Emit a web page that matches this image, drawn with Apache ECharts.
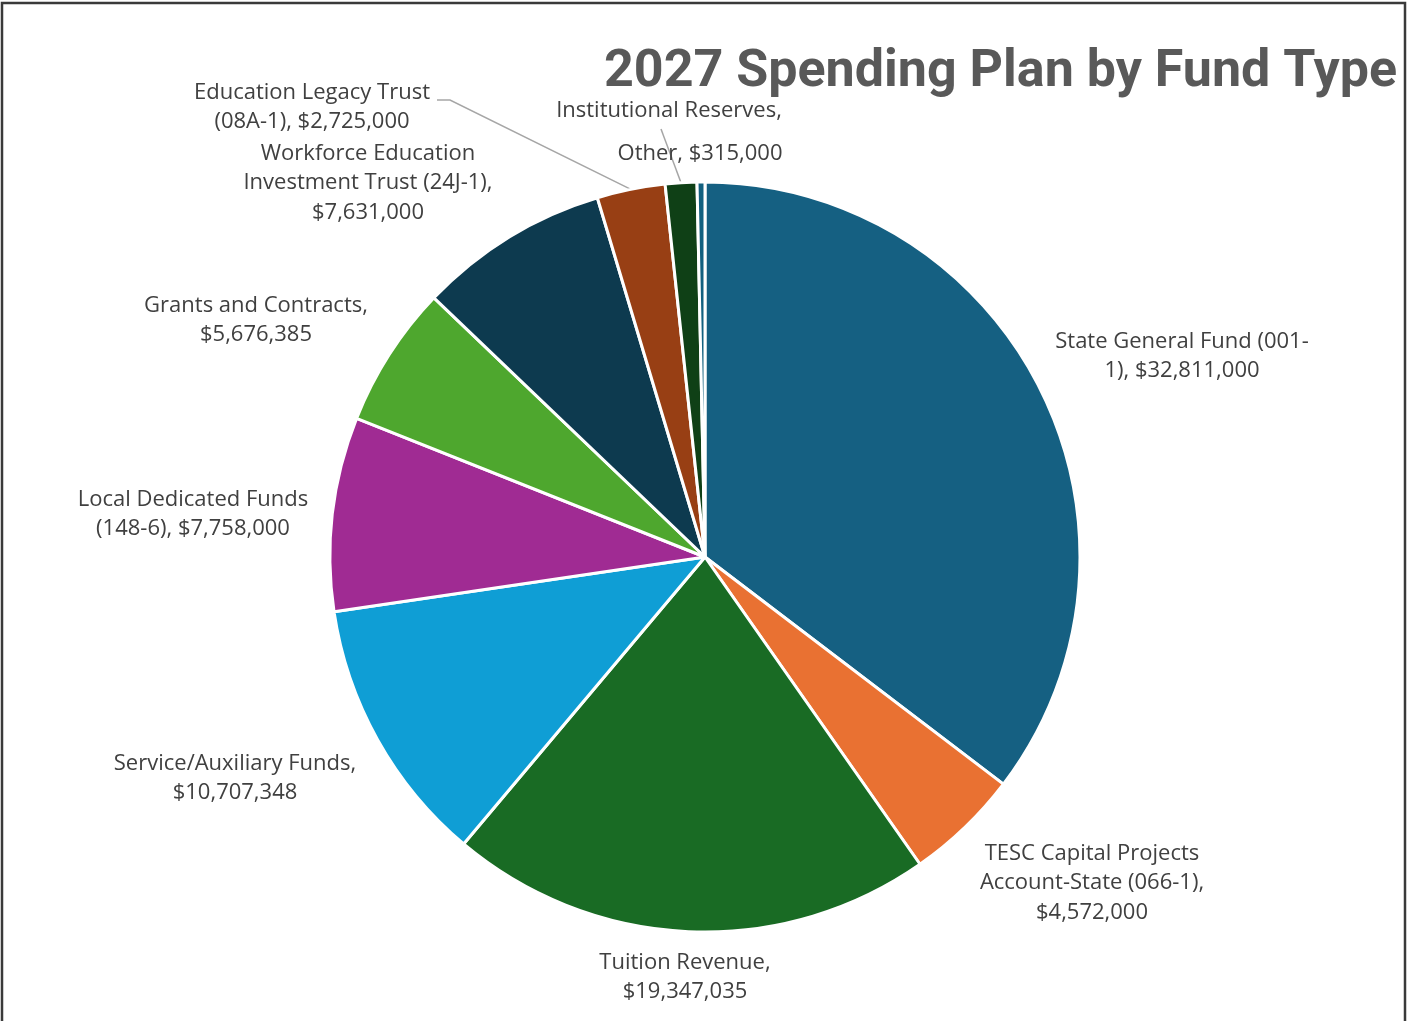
<!DOCTYPE html>
<html>
<head>
<meta charset="utf-8">
<title>2027 Spending Plan by Fund Type</title>
<script src="https://cdn.jsdelivr.net/npm/echarts@6/dist/echarts.min.js"></script>
<style>
  html, body { margin: 0; padding: 0; background: #ffffff; }
  #chart { width: 1407px; height: 1021px; }
</style>
</head>
<body>
<div id="chart"></div>
<script>
// Fund names, with the line breaks used in the slice labels
const categories = [
  'State General Fund (001-\n1)',
  'TESC Capital Projects\nAccount-State (066-1)',
  'Tuition Revenue',
  'Service/Auxiliary Funds',
  'Local Dedicated Funds\n(148-6)',
  'Grants and Contracts',
  'Workforce Education\nInvestment Trust (24J-1)',
  'Education Legacy Trust\n(08A-1)',
  'Institutional Reserves',
  'Other'
];

// Planned spending, dollars
const values = [
  32811000,
  4572000,
  19347035,
  10707348,
  7758000,
  5676385,
  7631000,
  2725000,
  1260000,
  315000
];

// Text between the fund name and its amount; null = amount not printed
const separators = [', ', ',\n', ',\n', ',\n', ', ', ',\n', ',\n', ', ', null, ', '];

const colors = [
  '#156082', '#E97132', '#196B24', '#0F9ED5', '#A02B93',
  '#4EA72E', '#0D3A4F', '#983F14', '#0F4016', '#12607F'
];

// Label centres relative to the pie centre, and leader-line bends (relative to the label centre)
const pieCenter = [705, 557];
const pieRadius = 375;
const labelOffsets = [
  [477, -201], [387, 326], [-20, 420], [-470, 221], [-512, -43],
  [-449, -237], [-337, -374], [-393, -450], [-36, -446], [-5, -403]
];
const leaderBends = {
  7: [[138, -7], [125, -7]],
  8: [[-8, 18]]
};

const money = v => '$' + v.toLocaleString('en-US');

const chart = echarts.init(document.getElementById('chart'), null, { renderer: 'canvas' });

const pieData = categories.map((name, i) => ({
  name: name,
  value: values[i],
  itemStyle: { color: colors[i] },
  labelLine: { show: i in leaderBends }
}));

chart.setOption({
  backgroundColor: '#ffffff',
  animation: false,
  title: {
    text: '2027 Spending Plan by Fund Type',
    right: 5,
    top: 42,
    textStyle: {
      fontFamily: 'Roboto',
      fontWeight: 'bold',
      fontSize: 52,
      color: '#595959'
    }
  },
  graphic: [{
    type: 'rect',
    shape: { x: 2, y: 3, width: 1403, height: 1030 },
    style: { fill: 'none', stroke: '#3a3a3a', lineWidth: 2.5 },
    silent: true,
    z: 100
  }],
  series: [{
    type: 'pie',
    center: pieCenter,
    radius: pieRadius,
    startAngle: 90,
    clockwise: true,
    avoidLabelOverlap: false,
    data: pieData,
    itemStyle: { borderColor: '#ffffff', borderWidth: 3 },
    emphasis: { disabled: true },
    label: {
      show: true,
      position: 'outside',
      fontFamily: 'Open Sans',
      fontSize: 22,
      lineHeight: 29.5,
      color: '#404040',
      align: 'center',
      formatter: p => {
        const sep = separators[p.dataIndex];
        return sep === null ? p.name + ',' : p.name + sep + money(p.value);
      }
    },
    labelLine: {
      length: 10,
      length2: 10,
      lineStyle: { color: '#a6a6a6', width: 1.5 }
    },
    labelLayout: params => {
      const i = params.dataIndex;
      const x = pieCenter[0] + labelOffsets[i][0];
      const y = pieCenter[1] + labelOffsets[i][1];
      const out = { x: x, y: y, align: 'center', verticalAlign: 'middle' };
      if (leaderBends[i] && params.labelLinePoints) {
        const start = params.labelLinePoints[0];
        out.labelLinePoints = [start].concat(
          leaderBends[i].map(b => [x + b[0], y + b[1]])
        );
      }
      return out;
    }
  }]
});
</script>
</body>
</html>
